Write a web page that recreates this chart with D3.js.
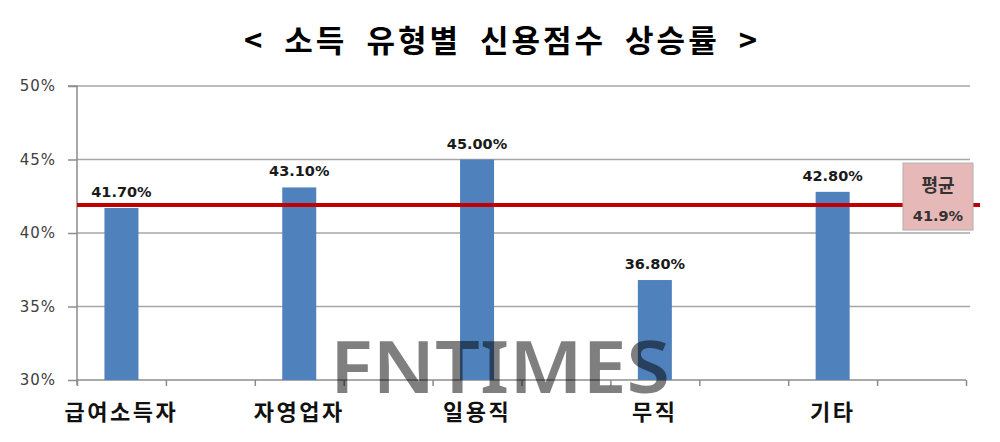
<!DOCTYPE html>
<html>
<head>
<meta charset="utf-8">
<script src="https://cdn.jsdelivr.net/npm/d3@7"></script>
<style>
  body { margin: 0; background: #fff; }
</style>
</head>
<body>
<div id="chart"></div>
<script>
// chart data
var categories = ["급여소득자", "자영업자", "일용직", "무직", "기타"];
var values = [41.7, 43.1, 45.0, 36.8, 42.8];
var valueLabels = ["41.70%", "43.10%", "45.00%", "36.80%", "42.80%"];
var averageValue = [41.9];
var averageLabel = ["평균", "41.9%"];
var yTicks = [30, 35, 40, 45, 50];
var titleText = "< 소득 유형별 신용점수 상승률 >";

function init() {
    var w = 1000, h = 442;
    var left = 77, right = 966, top = 86, bottom = 380;

    var svg = d3.select("#chart").append("svg")
        .attr("width", w)
        .attr("height", h);

    // every category takes two slots, the bar sits in the first one
    var slots = d3.range(categories.length * 2);
    var xScale = d3.scaleBand().domain(slots).range([left, right]);
    var yScale = d3.scaleLinear().domain([30, 50]).range([bottom, top]);

    // title
    svg.append("text")
        .attr("x", 502)
        .attr("y", 52)
        .attr("text-anchor", "middle")
        .style("font-family", "'Noto Sans CJK KR'")
        .style("font-weight", "bold")
        .style("font-size", "31px")
        .style("letter-spacing", "3px")
        .style("word-spacing", "9px")
        .attr("fill", "#000")
        .text(titleText);

    // gridlines
    svg.append("g").selectAll("line")
        .data(yTicks.slice(1))
        .enter().append("line")
        .attr("x1", left)
        .attr("x2", 970)
        .attr("y1", d => yScale(d))
        .attr("y2", d => yScale(d))
        .attr("stroke", "#a6a6a6")
        .attr("stroke-width", 1.5);

    // y axis
    var yAxis = d3.axisLeft(yScale).tickValues(yTicks).tickSize(9).tickFormat(d => d + "%");
    var yG = svg.append("g")
        .attr("transform", `translate(${left},0)`)
        .call(yAxis);
    yG.select(".domain").attr("stroke", "#8c8c8c").attr("stroke-width", 1.5)
        .attr("d", `M-9,${top}H0V${bottom + 5}`);
    yG.selectAll(".tick line").attr("stroke", "#8c8c8c").attr("stroke-width", 1.5);
    yG.selectAll("text")
        .attr("x", -21)
        .attr("fill", "#404040")
        .style("font-family", "'DejaVu Sans'")
        .style("font-size", "15px")
        .style("letter-spacing", "1px");

    // x axis with slot boundaries as ticks
    var xTickScale = d3.scaleLinear().domain([0, slots.length]).range([left, right]);
    var xAxis = d3.axisBottom(xTickScale).tickValues(d3.range(slots.length + 1)).tickSize(6).tickFormat("");
    var xG = svg.append("g")
        .attr("transform", `translate(0,${bottom})`)
        .call(xAxis);
    xG.select(".domain").attr("stroke", "#8c8c8c").attr("stroke-width", 1.5)
        .attr("d", `M${left},0H${right}`);
    xG.selectAll(".tick line").attr("stroke", "#8c8c8c").attr("stroke-width", 1.5);

    var bw = 34;
    function cx(i) { return xScale(i * 2) + xScale.bandwidth() / 2; }

    // bars
    svg.append("g").selectAll("rect")
        .data(values)
        .enter().append("rect")
        .attr("x", (d, i) => cx(i) - bw / 2)
        .attr("y", d => yScale(d))
        .attr("width", bw)
        .attr("height", d => bottom - yScale(d))
        .attr("fill", "#4f81bd");

    // value labels
    svg.append("g").selectAll("text")
        .data(values)
        .enter().append("text")
        .attr("x", (d, i) => cx(i))
        .attr("y", d => yScale(d) - 11)
        .attr("text-anchor", "middle")
        .style("font-family", "'DejaVu Sans'")
        .style("font-weight", "bold")
        .style("font-size", "14.5px")
        .attr("fill", "#1a1a1a")
        .text((d, i) => valueLabels[i]);

    // category labels
    svg.append("g").selectAll("text")
        .data(categories)
        .enter().append("text")
        .attr("x", (d, i) => cx(i))
        .attr("y", 420)
        .attr("text-anchor", "middle")
        .style("font-family", "'Noto Sans CJK KR'")
        .style("font-weight", "bold")
        .style("font-size", "22px")
        .style("letter-spacing", "2.5px")
        .attr("fill", "#111")
        .text(d => d);

    // average line
    svg.append("line")
        .attr("x1", left)
        .attr("x2", 980)
        .attr("y1", yScale(averageValue[0]))
        .attr("y2", yScale(averageValue[0]))
        .attr("stroke", "#c00000")
        .attr("stroke-width", 4);

    // average box
    var boxY = yScale(averageValue[0]);
    svg.append("rect")
        .attr("x", 903)
        .attr("y", boxY - 42)
        .attr("width", 70)
        .attr("height", 67)
        .attr("fill", "#e6b8b7")
        .attr("stroke", "#b0b0b0")
        .attr("stroke-width", 1);
    svg.append("text")
        .attr("x", 938)
        .attr("y", boxY - 13)
        .attr("text-anchor", "middle")
        .style("font-family", "'Noto Sans CJK KR'")
        .style("font-weight", "bold")
        .style("font-size", "18px")
        .attr("fill", "#333")
        .text(averageLabel[0]);
    svg.append("text")
        .attr("x", 938)
        .attr("y", boxY + 16)
        .attr("text-anchor", "middle")
        .style("font-family", "'DejaVu Sans'")
        .style("font-weight", "bold")
        .style("font-size", "14.5px")
        .attr("fill", "#333")
        .text(averageLabel[1]);

    // watermark
    svg.append("text")
        .attr("x", 330)
        .attr("y", 393)
        .attr("textLength", 340)
        .attr("lengthAdjust", "spacingAndGlyphs")
        .style("font-family", "'Noto Sans'")
        .style("font-weight", "600")
        .style("font-size", "72px")
        .attr("fill", "#000")
        .attr("fill-opacity", 0.5)
        .text("FNTIMES");
}

window.onload = init;
</script>
</body>
</html>
